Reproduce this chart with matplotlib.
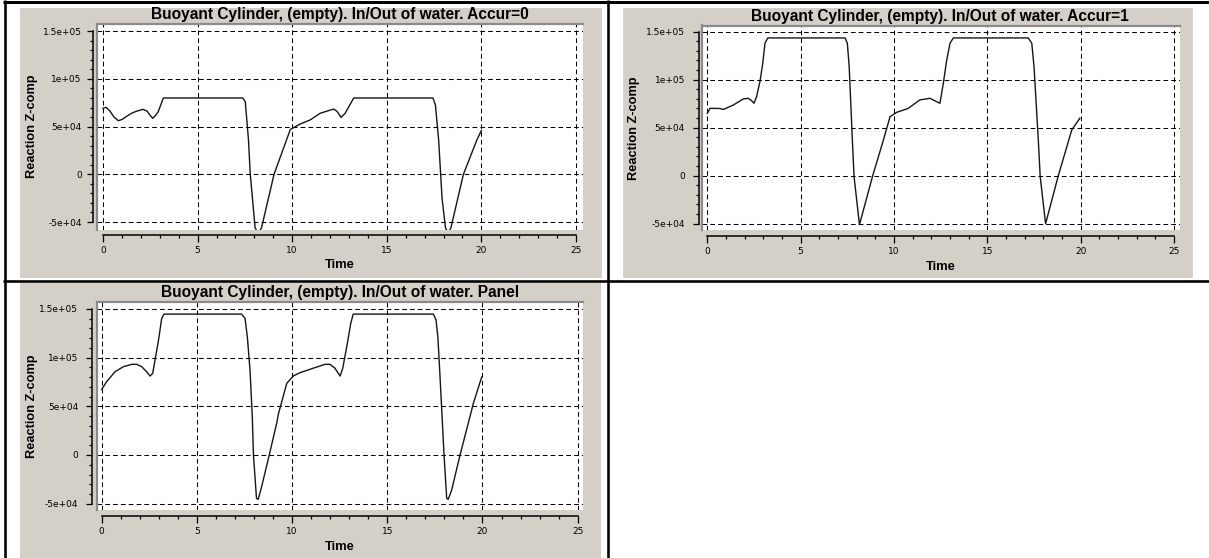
import matplotlib
matplotlib.use("Agg")
import matplotlib.pyplot as plt
from matplotlib.patches import Rectangle
from matplotlib.lines import Line2D
from matplotlib.ticker import FixedLocator, MultipleLocator

# ---------------- data ----------------
title_prefix = "Buoyant Cylinder, (empty). In/Out of water. "
panel_names = ["Accur=0", "Accur=1", "Panel"]
x_label = "Time"
y_label = "Reaction Z-comp"
x_ticks = [0, 5, 10, 15, 20, 25]
x_tick_labels = ["0", "5", "10", "15", "20", "25"]
y_ticks = [-5e4, 0, 5e4, 1e5, 1.5e5]
y_tick_labels = ["-5e+04", "0", "5e+04", "1e+05", "1.5e+05"]

time_accur0 = [0.0, 0.16, 0.37, 0.58, 0.81, 1.0, 1.27, 1.53, 1.8, 2.11, 2.33, 2.48,
               2.63, 2.75, 2.92, 3.19, 7.39, 7.52, 7.69, 7.78, 8.04, 8.2, 8.38,
               9.04, 9.7, 9.9, 10.42, 10.95, 11.48, 12.19, 12.37, 12.58, 12.8,
               13.25, 17.44, 17.57, 17.74, 17.92, 18.1, 18.25, 18.39, 19.05,
               19.76, 20.0]
reaction_accur0 = [69.2e3, 70.2e3, 66.3e3, 60e3, 56.2e3, 57.4e3, 61e3, 64.2e3, 66.3e3,
                   68.1e3, 66.3e3, 62.1e3, 58.7e3, 61.1e3, 65.6e3, 80e3, 80e3, 76e3,
                   36e3, 1e3, -56e3, -62e3, -56e3, 0.0, 36e3, 47e3, 52.7e3, 57e3,
                   64e3, 68.4e3, 66e3, 59.7e3, 64e3, 80e3, 80e3, 72.6e3, 36e3,
                   -25e3, -56e3, -62e3, -56e3, 0.0, 36e3, 46e3]

time_accur1 = [0.0, 0.15, 0.68, 0.86, 1.39, 1.93, 2.2, 2.38, 2.5, 2.64, 2.82, 2.97,
               3.09, 3.24, 7.38, 7.5, 7.6, 7.77, 7.86, 8.15, 8.86, 9.43, 9.79,
               10.14, 10.75, 11.39, 11.93, 12.29, 12.46, 12.64, 12.82, 13.0, 13.18,
               17.19, 17.38, 17.5, 17.73, 17.83, 18.12, 18.8, 19.52, 19.96]
reaction_accur1 = [65e3, 70.2e3, 70e3, 69e3, 73.6e3, 80e3, 80.6e3, 78e3, 75.4e3,
                   82.3e3, 98e3, 117e3, 138e3, 143.5e3, 143.5e3, 138e3, 113.5e3,
                   37e3, -1e3, -51e3, 0.0, 37e3, 61.5e3, 66e3, 70e3, 79e3, 80.6e3,
                   77e3, 75.4e3, 96e3, 120e3, 138e3, 143.5e3, 143.5e3, 138e3,
                   113.5e3, 37e3, -1e3, -50e3, 0.0, 47.6e3, 60e3]

time_panel = [0.0, 0.26, 0.7, 1.14, 1.58, 1.84, 2.1, 2.36, 2.54, 2.68, 2.8, 2.97,
              3.15, 3.27, 7.35, 7.53, 7.65, 7.79, 7.91, 7.97, 8.13, 8.22, 8.4,
              8.8, 9.19, 9.28, 9.72, 10.06, 10.41, 11.11, 11.73, 11.99, 12.25,
              12.52, 12.66, 12.87, 13.08, 13.21, 17.42, 17.56, 17.66, 17.77,
              17.86, 17.98, 18.12, 18.2, 18.38, 18.82, 19.43, 19.52, 19.96]
reaction_panel = [67.4e3, 75.2e3, 85.4e3, 90.6e3, 93e3, 93e3, 90.6e3, 85.4e3, 81e3,
                  83.8e3, 97.4e3, 116e3, 140e3, 144.5e3, 144.5e3, 140e3, 121e3,
                  87e3, 39e3, 0.0, -44.4e3, -45.5e3, -32.5e3, 0.0, 32.5e3, 42e3,
                  73.5e3, 81e3, 84.4e3, 89e3, 93e3, 93e3, 89e3, 81e3, 89e3, 111e3,
                  135e3, 144.5e3, 144.5e3, 138.5e3, 120e3, 80e3, 46e3, 0.0,
                  -44.4e3, -45.5e3, -36e3, 0.0, 46e3, 53e3, 80e3]

series = [(time_accur0, reaction_accur0),
          (time_accur1, reaction_accur1),
          (time_panel, reaction_panel)]

# ---------------- page geometry (pixels) ----------------
W, H, DPI = 1209, 558, 100
PT = 72 / DPI
GRAY = "#d4d0c8"
FRAME = "#8a8a8a"

layouts = [
    dict(gray=(20, 8, 602, 278), plot=(97, 23.5, 583, 229.5), t0=103.0, tpx=18.92,
         v0=174.3, vpx=47.7, yaxis_x=92.5, ylab_right=81.7, xaxis_y=234.5,
         title_base=19.5, title_x=339.5, ylabel_x=32.5, time_base=268.5),
    dict(gray=(623, 8, 1193, 278), plot=(702, 25.5, 1180, 230.5), t0=707.3, tpx=18.67,
         v0=175.7, vpx=48.0, yaxis_x=699.0, ylab_right=685.0, xaxis_y=236.0,
         title_base=20.5, title_x=940.0, ylabel_x=634.0, time_base=270.0),
    dict(gray=(20, 283, 601, 558), plot=(97, 301.5, 583, 510), t0=101.7, tpx=19.04,
         v0=455.0, vpx=48.75, yaxis_x=91.7, ylab_right=78.3, xaxis_y=516.0,
         title_base=297.5, title_x=340.0, ylabel_x=32.0, time_base=550.0),
]

fig = plt.figure(figsize=(W / DPI, H / DPI), dpi=DPI)
fig.patch.set_facecolor("white")


def frac_box(x0, y0, x1, y1):
    return [x0 / W, 1 - y1 / H, (x1 - x0) / W, (y1 - y0) / H]


def fig_line(xs, ys, lw):
    fig.add_artist(Line2D([x / W for x in xs], [1 - y / H for y in ys],
                          transform=fig.transFigure, color="black",
                          lw=lw * PT, solid_capstyle="butt", zorder=10))


TICK_MAJOR = 6.5 * PT
TICK_MINOR = 3.0 * PT
tick_font = dict(family="DejaVu Sans", size=6.5)
bold_font = "Liberation Sans"

for name, (t, v), L in zip(panel_names, series, layouts):
    gx0, gy0, gx1, gy1 = L["gray"]
    fig.add_artist(Rectangle((gx0 / W, 1 - gy1 / H), (gx1 - gx0) / W, (gy1 - gy0) / H,
                             transform=fig.transFigure, facecolor=GRAY,
                             edgecolor="none", zorder=-1))

    px0, py0, px1, py1 = L["plot"]
    xlim = ((px0 - L["t0"]) / L["tpx"], (px1 - L["t0"]) / L["tpx"])
    ylim = ((L["v0"] - py1) * 5e4 / L["vpx"], (L["v0"] - py0) * 5e4 / L["vpx"])

    # white plotting area with sunken frame
    ax = fig.add_axes(frac_box(px0, py0, px1, py1))
    ax.set_facecolor("white")
    ax.set_xlim(*xlim)
    ax.set_ylim(*ylim)
    ax.set_xticks(x_ticks)
    ax.set_yticks(y_ticks)
    ax.tick_params(length=0, labelbottom=False, labelleft=False)
    ax.grid(True, color="black", lw=0.75, ls=(0, (4.5, 3)))
    ax.set_axisbelow(True)
    for s in ("right", "bottom"):
        ax.spines[s].set_visible(False)
    for s in ("left", "top"):
        ax.spines[s].set_color(FRAME)
        ax.spines[s].set_linewidth(2.2 * PT)
    ax.plot(t, v, color="#151515", lw=1.0, zorder=3, solid_joinstyle="round")

    # detached time axis below the plotting area
    axx = fig.add_axes(frac_box(px0, L["xaxis_y"] - 1, px1, L["xaxis_y"]))
    axx.patch.set_visible(False)
    axx.set_xlim(*xlim)
    axx.set_ylim(0, 1)
    axx.set_yticks([])
    for s in ("left", "right", "top"):
        axx.spines[s].set_visible(False)
    axx.spines["bottom"].set_bounds(x_ticks[0], x_ticks[-1])
    axx.spines["bottom"].set_linewidth(1.1)
    axx.xaxis.set_major_locator(FixedLocator(x_ticks))
    axx.set_xticklabels(x_tick_labels, fontdict=tick_font)
    axx.xaxis.set_minor_locator(MultipleLocator(1))
    axx.tick_params(axis="x", which="major", direction="out", length=TICK_MAJOR,
                    width=0.9, pad=3.3)
    axx.tick_params(axis="x", which="minor", direction="out", length=TICK_MINOR,
                    width=0.9)

    # detached reaction axis left of the plotting area
    axy = fig.add_axes(frac_box(L["yaxis_x"], py0, L["yaxis_x"] + 1, py1))
    axy.patch.set_visible(False)
    axy.set_ylim(*ylim)
    axy.set_xlim(0, 1)
    axy.set_xticks([])
    for s in ("bottom", "right", "top"):
        axy.spines[s].set_visible(False)
    axy.spines["left"].set_bounds(y_ticks[0], y_ticks[-1])
    axy.spines["left"].set_linewidth(1.1)
    axy.yaxis.set_major_locator(FixedLocator(y_ticks))
    axy.set_yticklabels(y_tick_labels, fontdict=tick_font)
    axy.yaxis.set_minor_locator(MultipleLocator(1e4))
    ypad = (L["yaxis_x"] - 6.5 - L["ylab_right"]) * PT
    axy.tick_params(axis="y", which="major", direction="out", length=TICK_MAJOR,
                    width=0.9, pad=ypad)
    axy.tick_params(axis="y", which="minor", direction="out", length=TICK_MINOR,
                    width=0.9)

    # titles and axis names
    fig.text(L["title_x"] / W, 1 - L["title_base"] / H, title_prefix + name,
             ha="center", va="baseline", fontsize=11.2, fontweight="bold",
             family=bold_font)
    fig.text(L["ylabel_x"] / W, 1 - ((py0 + py1) / 2) / H, y_label, rotation=90,
             ha="center", va="center", fontsize=9.2, fontweight="bold",
             family=bold_font)
    x_mid = L["t0"] + (x_ticks[0] + x_ticks[-1]) / 2 * L["tpx"]
    fig.text(x_mid / W, 1 - L["time_base"] / H, x_label, ha="center",
             va="baseline", fontsize=9.4, fontweight="bold", family=bold_font)

# table rules around the cells
fig_line([3, W], [1.5, 1.5], 3.0)
fig_line([3, W], [281, 281], 2.6)
fig_line([5.3, 5.3], [0, H], 2.6)
fig_line([607.5, 607.5], [0, H], 2.6)

fig.savefig("out.png", dpi=DPI, facecolor="white")
